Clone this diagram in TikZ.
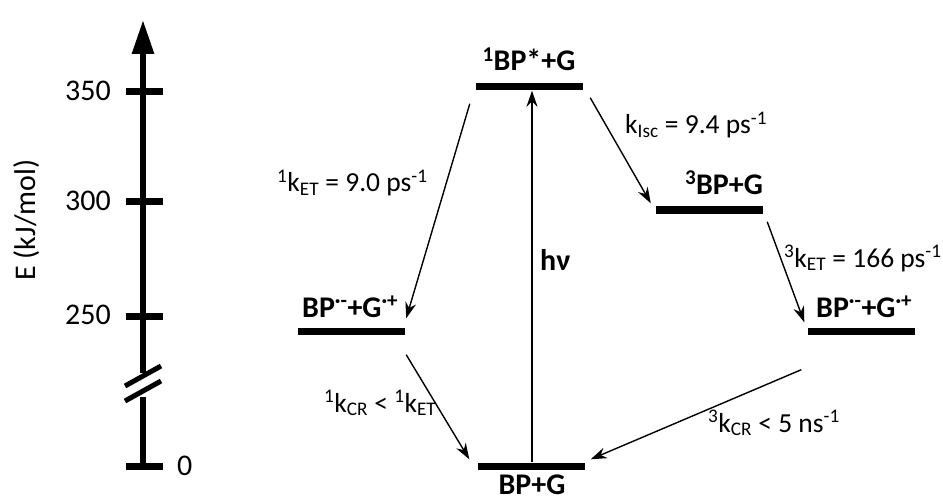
\documentclass[tikz,border=0pt]{standalone}
\usepackage{fontspec}
\setmainfont{Carlito}
\usetikzlibrary{arrows.meta}
\begin{document}
\begin{tikzpicture}[x=1pt,y=-1pt,
  level/.style={fill=black, inner sep=0pt, minimum width=107pt, minimum height=7pt},
  tickmark/.style={line width=7pt},
  axisline/.style={line width=6pt},
  trans/.style={line width=1.4pt, -{Stealth[length=16pt,width=11pt]}},
  alab/.style={font=\fontsize{30}{36}\selectfont, inner sep=0pt},
  lab/.style={font=\fontsize{27.5}{33}\selectfont, inner sep=0pt},
  blab/.style={font=\bfseries\fontsize{30}{36}\selectfont, inner sep=0pt}]
\useasboundingbox (0,0) rectangle (943,500);
% energy axis
\coordinate (ab) at (143,466);
\coordinate (ag1) at (143,397);
\coordinate (ag2) at (143,373);
\coordinate (at) at (143,20);
\draw[axisline] (ab) -- (ag1);
\draw[axisline, -{Triangle[length=34pt,width=21pt]}] (ag2) -- (at);
\draw[line width=5pt] (125,401) -- (161,381);
\draw[line width=5pt] (125,386) -- (161,366);
\draw[tickmark] (126,92) -- (163,92);
\draw[tickmark] (126,202) -- (163,202);
\draw[tickmark] (126,316) -- (163,316);
\draw[tickmark] (126,466) -- (163,466);
\node[alab, anchor=east] (t350) at (111,91) {350};
\node[alab, anchor=east] (t300) at (111,201) {300};
\node[alab, anchor=east] (t250) at (111,315) {250};
\node[alab, anchor=west] (t0) at (177,466) {0};
\node[alab, rotate=90] (elab) at (27,220) {E (kJ/mol)};
% levels
\node[level] (s1) at (529.5,87) {};
\node[level] (t1) at (709.5,210) {};
\node[level] (cl) at (351.5,331) {};
\node[level] (cr) at (861,331) {};
\node[level] (g) at (531,466) {};
\node[blab, anchor=base] (s1l) at (529,71) {\textsuperscript{1}BP*+G};
\node[blab, anchor=base] (t1l) at (724,194) {\textsuperscript{3}BP+G};
\node[blab, anchor=base west] (cll) at (302,317) {BP\textsuperscript{·-}+G\textsuperscript{·+}};
\node[blab, anchor=base west] (crl) at (816,317) {BP\textsuperscript{·-}+G\textsuperscript{·+}};
\node[blab, anchor=base] (gl) at (532,494) {BP+G};
% transitions
\draw[trans] ([shift={(-6,13)}]s1.south west) -- ([shift={(1,-9)}]cl.north east);
\draw[trans] ([xshift=1pt]g.north) -- ([xshift=1pt]g.north |- s1.south);
\draw[trans] ([shift={(7,7)}]s1.south east) -- ([shift={(-5,-3)}]t1.north west);
\draw[trans] ([shift={(4,8)}]t1.south east) -- ([shift={(-3,-5)}]cr.north west);
\draw[trans] ([shift={(1,20)}]cl.south east) -- ([shift={(-8,-3)}]g.north west);
\draw[trans] ([shift={(-6,35)}]cr.south west) -- ([shift={(6,-3)}]g.north east);
% rate labels
\node[lab, anchor=base west] (r1) at (277,192) {\textsuperscript{1}k\textsubscript{ET} = 9.0 ps\textsuperscript{-1}};
\node[lab, anchor=base west] (r2) at (625,134) {k\textsubscript{Isc} = 9.4 ps\textsuperscript{-1}};
\node[blab, anchor=base west] (hv) at (540,270) {hν};
\node[lab, anchor=base west] (r3) at (784,267) {\textsuperscript{3}k\textsubscript{ET} = 166 ps\textsuperscript{-1}};
\node[lab, anchor=base west] (r4) at (324,412) {\textsuperscript{1}k\textsubscript{CR} < \textsuperscript{1}k\textsubscript{ET}};
\node[lab, anchor=base east] (r5) at (840,432) {\textsuperscript{3}k\textsubscript{CR} < 5 ns\textsuperscript{-1}};
\end{tikzpicture}
\end{document}
